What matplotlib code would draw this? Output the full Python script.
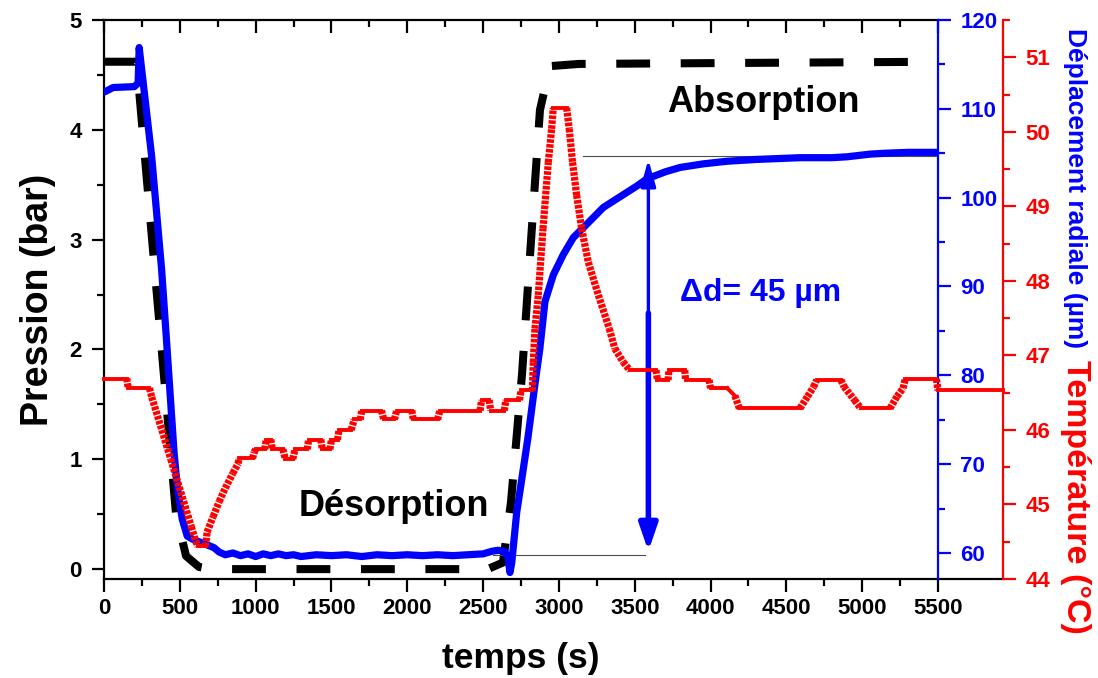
import numpy as np
import matplotlib
matplotlib.use('Agg')
import matplotlib.pyplot as plt
from matplotlib.collections import LineCollection
from matplotlib.ticker import MultipleLocator

plt.rcParams['font.family'] = ['Liberation Sans', 'DejaVu Sans']
plt.rcParams['font.weight'] = 'bold'
plt.rcParams['axes.labelweight'] = 'bold'

# pression (bar)
press_t = [0, 215, 475, 541, 626, 700, 2530, 2631, 2684, 2757, 2816, 2875, 2941, 3132, 5500]
press_v = [4.62, 4.62, 0.50, 0.12, 0.02, 0.0, 0.0, 0.06, 0.61, 1.78, 2.99, 4.18, 4.58, 4.60, 4.62]

# deplacement radial (um)
disp_t = [0, 15, 60, 200, 225, 232, 248, 281, 314, 347, 380, 410, 440, 462, 483, 516, 549, 590,
          637, 725, 760, 800, 850, 900, 950, 1000, 1050, 1100, 1150, 1200, 1250, 1300, 1400, 1500,
          1600, 1700, 1800, 1900, 2000, 2100, 2200, 2300, 2400, 2500, 2560, 2600, 2640, 2665, 2677,
          2689, 2722, 2755, 2796, 2842, 2875, 2908, 2963, 3029, 3095, 3183, 3293, 3403, 3513, 3579,
          3700, 3799, 3950, 4109, 4300, 4590, 4800, 4900, 5052, 5150, 5300, 5500]
disp_v = [111.9, 112.0, 112.4, 112.5, 112.9, 116.9, 114.5, 109.6, 104.7, 98.3, 91.9, 84.5, 76.9,
          71.3, 67.5, 63.8, 61.9, 61.5, 61.2, 60.6, 60.1, 59.8, 60.0, 59.7, 59.9, 59.6, 59.9, 59.7,
          59.9, 59.7, 59.8, 59.6, 59.8, 59.7, 59.8, 59.6, 59.8, 59.7, 59.8, 59.7, 59.8, 59.7, 59.8,
          59.9, 60.2, 60.3, 60.2, 59.5, 57.8, 58.9, 64.6, 68.3, 73.0, 79.0, 83.1, 88.3, 91.3, 93.6,
          95.5, 97.0, 98.9, 100.1, 101.3, 102.1, 102.9, 103.4, 103.8, 104.1, 104.3, 104.5, 104.5,
          104.6, 104.9, 105.0, 105.1, 105.1]

# temperature (C)
temp_t = [0, 150, 160, 300, 315, 440, 576, 604, 620, 670, 680, 720, 760, 800, 850, 885, 890, 980,
          990, 1000, 1060, 1070, 1100, 1110, 1180, 1195, 1245, 1260, 1340, 1350, 1430, 1440, 1490,
          1500, 1540, 1550, 1630, 1650, 1690, 1700, 1830, 1845, 1915, 1930, 2030, 2040, 2200, 2215,
          2480, 2490, 2540, 2550, 2640, 2650, 2740, 2750, 2825, 2831, 2842, 2864, 2895, 2930, 2952,
          2963, 3051, 3068, 3090, 3117, 3150, 3194, 3260, 3332, 3369, 3424, 3468, 3640, 3650, 3720,
          3725, 3830, 3835, 3990, 4000, 4110, 4160, 4190, 4590, 4640, 4680, 4700, 4860, 4880, 4950,
          4990, 5184, 5230, 5270, 5283, 5490, 5500, 5930]
temp_v = [46.69, 46.69, 46.56, 46.56, 46.44, 45.61, 44.70, 44.51, 44.44, 44.44, 44.63, 44.84,
          45.04, 45.22, 45.42, 45.55, 45.62, 45.62, 45.70, 45.74, 45.74, 45.87, 45.87, 45.74, 45.74,
          45.61, 45.61, 45.74, 45.74, 45.87, 45.87, 45.74, 45.74, 45.87, 45.87, 46.00, 46.00, 46.14,
          46.14, 46.26, 46.26, 46.14, 46.14, 46.26, 46.26, 46.14, 46.14, 46.26, 46.26, 46.40, 46.40,
          46.26, 46.26, 46.40, 46.40, 46.53, 46.53, 46.91, 47.36, 47.81, 48.70, 49.59, 50.04, 50.32,
          50.32, 50.04, 49.59, 49.15, 48.70, 48.25, 47.81, 47.36, 47.09, 46.91, 46.80, 46.80, 46.67,
          46.67, 46.80, 46.80, 46.67, 46.67, 46.56, 46.56, 46.46, 46.29, 46.29, 46.45, 46.58, 46.67,
          46.67, 46.58, 46.40, 46.29, 46.29, 46.45, 46.56, 46.68, 46.68, 46.53, 46.53]

x_ticks = np.arange(0, 5501, 500)

fig = plt.figure(figsize=(10.98, 6.78), dpi=100)
ax = fig.add_axes([104 / 1098, 99 / 678, 834 / 1098, 559 / 678])
ax_b = ax.twinx()
ax_r = ax.twinx()

ax.set_xlim(0, 5500)
ax.set_ylim(-0.09, 5)
ax_b.set_ylim(57.07, 120)
ax_r.set_ylim(44, 51.5)

# black dashed pressure
ax.plot(press_t, press_v, color='black', lw=5.8, dashes=(4.2, 3.8), zorder=2)

# blue displacement
ax_b.plot(disp_t, disp_v, color='blue', lw=5.2, solid_joinstyle='round', solid_capstyle='round', zorder=2)
ax_b.plot([3159, 5500], [104.65, 104.65], color='0.3', lw=0.8, zorder=1)
ax_b.plot([2565, 3567], [59.72, 59.72], color='0.3', lw=0.8, zorder=1)
ax_b.annotate('', xy=(3590, 104.3), xytext=(3590, 87.0),
              arrowprops=dict(arrowstyle='-|>,head_length=1.6,head_width=0.45', color='blue',
                              lw=2.4, mutation_scale=10, shrinkA=0, shrinkB=0))
ax_b.annotate('', xy=(3590, 60.2), xytext=(3590, 87.0),
              arrowprops=dict(arrowstyle='-|>,head_length=1.6,head_width=0.55', color='blue',
                              lw=4, mutation_scale=10, shrinkA=0, shrinkB=0))
ax_b.text(4333, 89.3, '\u0394d= 45 \u00b5m', color='blue', fontsize=23, ha='center', va='center')

# red temperature: steep parts look like stacked dashes
pts = ax_r.transData.transform(np.column_stack([temp_t, temp_v]))
flat_seg, steep_seg = [], []
for i in range(len(temp_t) - 1):
    seg = [(temp_t[i], temp_v[i]), (temp_t[i + 1], temp_v[i + 1])]
    dx, dy = abs(pts[i + 1] - pts[i])
    (steep_seg if dy > dx else flat_seg).append(seg)
lc_flat = LineCollection(flat_seg, colors='red', linewidths=2.8, capstyle='projecting', zorder=3)
lc_steep = LineCollection(steep_seg, colors='red', linewidths=5.2,
                          linestyles=[(0, (0.5, 0.18))], zorder=3)
for lc in (lc_flat, lc_steep):
    lc.set_clip_on(False)
    ax_r.add_collection(lc)

ax.text(4346, 4.25, 'Absorption', fontsize=26, ha='center', va='center')
ax.text(1912, 0.57, 'D\u00e9sorption', fontsize=26, ha='center', va='center')

# axes and ticks
lw_sp = 1.6
ax.set_xticks(x_ticks)
ax.xaxis.set_minor_locator(MultipleLocator(250))
ax.yaxis.set_major_locator(MultipleLocator(1))
ax.yaxis.set_minor_locator(MultipleLocator(0.5))
ax.tick_params(axis='both', which='major', length=9, width=lw_sp, labelsize=16, pad=7)
ax.tick_params(axis='both', which='minor', length=5, width=lw_sp)
ax.tick_params(axis='x', which='major', pad=5)
for s in ['left', 'bottom']:
    ax.spines[s].set_linewidth(lw_sp)
ax.spines['top'].set_visible(False)
ax.spines['right'].set_visible(False)
ax.plot([1, 1.078], [0, 0], transform=ax.transAxes, color='black', lw=lw_sp,
        clip_on=False, solid_capstyle='butt')

top = ax.secondary_xaxis('top')
top.set_xticks(x_ticks)
top.xaxis.set_minor_locator(MultipleLocator(250))
top.tick_params(which='major', direction='in', length=9, width=lw_sp, labeltop=False)
top.tick_params(which='minor', direction='in', length=5, width=lw_sp)
top.spines['top'].set_linewidth(lw_sp)

for a, col, maj, mnr in ((ax_b, 'blue', 10, 5), (ax_r, 'red', 1, 0.5)):
    for s in ['left', 'top', 'bottom']:
        a.spines[s].set_visible(False)
    a.spines['right'].set_color(col)
    a.spines['right'].set_linewidth(lw_sp)
    a.yaxis.set_major_locator(MultipleLocator(maj))
    a.yaxis.set_minor_locator(MultipleLocator(mnr))
    a.tick_params(axis='y', which='major', colors=col, length=9, width=lw_sp, labelsize=16, pad=7)
    a.tick_params(axis='y', which='minor', colors=col, length=5, width=lw_sp)
ax_b.set_yticks(np.arange(60, 121, 10))
ax_r.spines['right'].set_position(('outward', 46.8))
ax_r.set_yticks(np.arange(44, 51.1, 1))

ax.set_ylabel('Pression (bar)', fontsize=27, labelpad=10)
ax.set_xlabel('temps (s)', fontsize=25.5, labelpad=16)
fig.text(1075 / 1098, 1 - 188 / 678, 'D\u00e9placement radiale (\u00b5m)', color='blue',
         fontsize=19, rotation=270, ha='center', va='center')
fig.text(1075 / 1098, 1 - 497 / 678, 'Temp\u00e9rature (\u00b0C)', color='red',
         fontsize=24.5, rotation=270, ha='center', va='center')

fig.savefig('out.png', dpi=100)
